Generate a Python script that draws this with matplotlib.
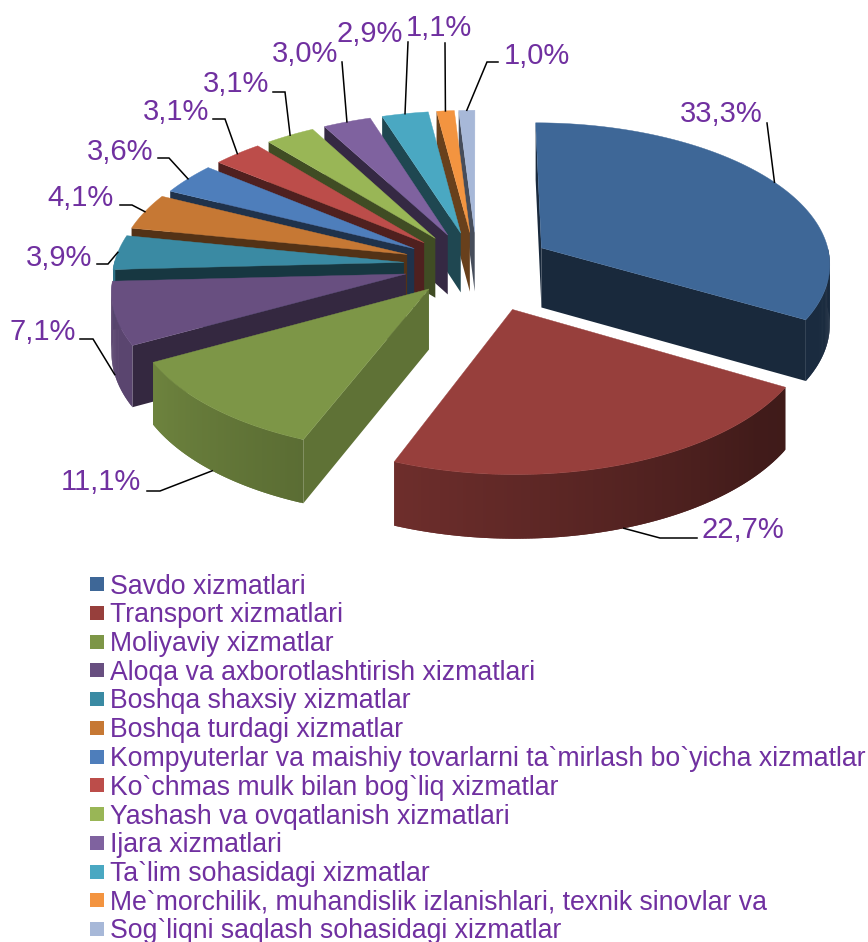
import numpy as np
import matplotlib
matplotlib.use("Agg")
import matplotlib.pyplot as plt
from matplotlib.colors import to_rgb
from matplotlib.patches import Polygon, Rectangle

plt.rcParams['font.family'] = ['Liberation Sans', 'DejaVu Sans']

categories = [
    "Savdo xizmatlari",
    "Transport xizmatlari",
    "Moliyaviy xizmatlar",
    "Aloqa va axborotlashtirish xizmatlari",
    "Boshqa shaxsiy xizmatlar",
    "Boshqa turdagi xizmatlar",
    "Kompyuterlar va maishiy tovarlarni ta`mirlash bo`yicha xizmatlar",
    "Ko`chmas mulk bilan bog`liq xizmatlar",
    "Yashash va ovqatlanish xizmatlari",
    "Ijara xizmatlari",
    "Ta`lim sohasidagi xizmatlar",
    "Me`morchilik, muhandislik izlanishlari, texnik sinovlar va",
    "Sog`liqni saqlash sohasidagi xizmatlar",
]
values = [33.3, 22.7, 11.1, 7.1, 3.9, 4.1, 3.6, 3.1, 3.1, 3.0, 2.9, 1.1, 1.0]
colors = ["#3E6797", "#973F3C", "#7D9647", "#684F80", "#3A8AA3", "#C67834", "#4E7EBB",
          "#BC4D4A", "#99B656", "#7F629F", "#4AA8C2", "#F39440", "#A7B8D8"]
radial_shade = [0.40, 0.42, 0.76, 0.50, 0.40, 0.42, 0.40, 0.42, 0.42, 0.42, 0.42, 0.43, 0.42]

# small per slice nudges in pixels, the real chart is not a perfect projection
slice_dx = [0, 10, 3, 2, 2, 1, 0, 0, 0, 0, 0, 0, 0]
slice_dy = [-2, 6, -7, -4, -3, -2, 0, 0, 0, 0, 0, 0, 0]

# label centres, then the bend of each leader (None = straight line)
label_xy = [(721, 113.5), (743, 529.5), (101, 482.5), (43, 332.5), (59, 257.5), (81, 198.5), (120, 151.5),
            (176, 111.5), (236, 84.5), (305, 54.5), (370, 34.5), (439, 28.5), (537, 56.5)]
leader_from = [(767, 123), (697, 538), (147, 491), (80, 339), (97, 264), (120, 205), (158, 158),
               (213, 119), (273, 92), (342, 62), (408, 42), (445, 43), (498, 62)]
leader_bend = [None, (660, 538), (160, 491), (93, 339), (108, 264), (132, 205), (169, 158),
               (225, 119), (285, 92), None, None, None, (487, 62)]

TEXT_COLOR = "#7030A0"
CX, CY = 477, 268
RX, RY = 290, 141
PERSP = 0.10
EXPLODE = 0.26
DEPTH = 60


def project(u, v, down=0.0, i=0):
    s = 1 / (1 - PERSP * v)
    return CX + RX * u * s + slice_dx[i], CY + RY * v * s + down * s ** 0.5 + slice_dy[i]


def shade(color, k):
    return tuple(c * k for c in to_rgb(color))


def outer_shade(theta):
    return np.interp(theta, [90, 130, 200, 240, 270], [0.40, 0.43, 0.72, 0.87, 0.87])


def faces_front(theta):
    return -np.cos(np.radians(theta)) > -0.01


fig = plt.figure(figsize=(8.68, 9.42), dpi=100)
ax = fig.add_axes([0, 0, 1, 1])
ax.set_xlim(0, 868)
ax.set_ylim(942, 0)
ax.axis("off")

edges = np.concatenate([[0], np.cumsum(values)]) / np.sum(values) * 360
mids = (edges[:-1] + edges[1:]) / 2

# back slices first so the front ones cover them
order = np.argsort(-np.cos(np.radians(mids)))
for i in order:
    t0, t1, tm = edges[i], edges[i + 1], np.radians(mids[i])
    ox, oy = EXPLODE * np.sin(tm), -EXPLODE * np.cos(tm)
    col = colors[i]
    angles = np.linspace(t0, t1, max(int(t1 - t0) * 2, 4) + 1)
    arc_u = ox + np.sin(np.radians(angles))
    arc_v = oy - np.cos(np.radians(angles))

    # radial walls, only the ones turned to the viewer
    for k, normal in ((0, t0 - 90), (-1, t1 + 90)):
        if not faces_front(normal):
            continue
        quad = [project(ox, oy, 0, i), project(arc_u[k], arc_v[k], 0, i),
                project(arc_u[k], arc_v[k], DEPTH, i), project(ox, oy, DEPTH, i)]
        ax.add_patch(Polygon(quad, closed=True, fc=shade(col, radial_shade[i]), ec="none"))

    # outer wall, strips overlap so no seams show
    n = len(angles)
    for j in range(n - 1):
        mid_a = (angles[j] + angles[j + 1]) / 2
        if not faces_front(mid_a):
            continue
        e = min(j + 2, n - 1)
        quad = [project(arc_u[j], arc_v[j], 0, i), project(arc_u[e], arc_v[e], 0, i),
                project(arc_u[e], arc_v[e], DEPTH, i), project(arc_u[j], arc_v[j], DEPTH, i)]
        ax.add_patch(Polygon(quad, closed=True, fc=shade(col, outer_shade(mid_a)), ec="none"))

    top = [project(ox, oy, 0, i)] + [project(a, b, 0, i) for a, b in zip(arc_u, arc_v)]
    ax.add_patch(Polygon(top, closed=True, fc=col, ec=col, lw=0.3))

# leaders and value labels
for i in range(len(values)):
    tm = np.radians(mids[i])
    u = (1 + EXPLODE) * np.sin(tm)
    v = -(1 + EXPLODE) * np.cos(tm)
    end = project(u, v, DEPTH if v > 0.05 else 0, i)
    pts = [leader_from[i]]
    if leader_bend[i] is not None:
        pts.append(leader_bend[i])
    pts.append(end)
    ax.plot([p[0] for p in pts], [p[1] for p in pts], color="black", lw=1.1, solid_joinstyle="miter")
    ax.text(label_xy[i][0], label_xy[i][1], f"{values[i]:.1f}%".replace(".", ","),
            color=TEXT_COLOR, fontsize=21, ha="center", va="center")

# legend
for i, name in enumerate(categories):
    y = 585 + i * 28.75
    ax.add_patch(Rectangle((90, y - 8), 14, 14, fc=colors[i], ec="none"))
    ax.text(110, y + 1.5, name, color=TEXT_COLOR, fontsize=19.2, ha="left", va="center")

fig.savefig("out.png", dpi=100)
